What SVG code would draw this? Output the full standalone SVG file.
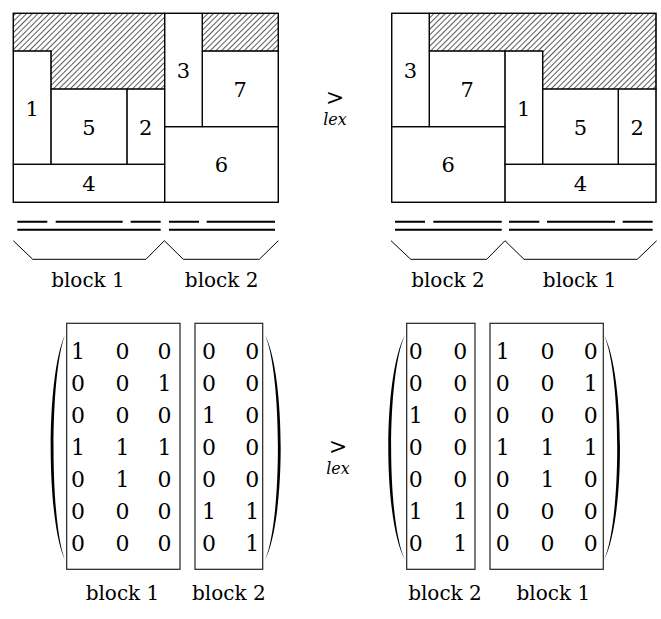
<svg xmlns="http://www.w3.org/2000/svg" width="661" height="619" viewBox="0 0 661 619" font-family="DejaVu Serif, serif">
<style>
text{font-family:"DejaVu Serif",serif;fill:#000}
.n{font-size:21px;text-anchor:middle}
.m{font-size:22px;text-anchor:middle}
.b{font-size:20px;text-anchor:middle}
.gt{font-size:22px;text-anchor:middle}
.lex{font-size:16px;font-style:italic;text-anchor:middle}
.cell{fill:none;stroke:#000;stroke-width:1.1}
.h{fill:url(#hatch);stroke:#000;stroke-width:1.1}
.dl{stroke:#000;stroke-width:2;fill:none}
.br{stroke:#000;stroke-width:1;fill:none}
.box{fill:none;stroke:#222;stroke-width:1.2}
.par{fill:#000;stroke:none}
</style>
<defs>
<pattern id="hatch" patternUnits="userSpaceOnUse" width="4" height="4" patternTransform="rotate(45)">
<line x1="0" y1="0" x2="0" y2="4" stroke="#000" stroke-width="1.3"/>
</pattern>
</defs>
<rect width="661" height="619" fill="#fff"/>

<!-- Top-left packing -->
<g id="packingLeft">
<polygon class="h" points="13.3,13.3 164.7,13.3 164.7,89 51,89 51,51 13.3,51"/>
<rect class="h" x="202.3" y="13.3" width="76" height="37.7"/>
<g id="L1"><rect class="cell" x="13.3" y="51" width="37.7" height="113.3"/><text class="n" x="32.2" y="115.5">1</text></g>
<g id="L5"><rect class="cell" x="51" y="89" width="76" height="75.3"/><text class="n" x="89" y="134.5">5</text></g>
<g id="L2"><rect class="cell" x="127" y="89" width="37.7" height="75.3"/><text class="n" x="145.8" y="134.5">2</text></g>
<g id="L4"><rect class="cell" x="13.3" y="164.3" width="151.4" height="38"/><text class="n" x="89" y="191.1">4</text></g>
<g id="L3"><rect class="cell" x="164.7" y="13.3" width="37.6" height="113.4"/><text class="n" x="183.5" y="77.8">3</text></g>
<g id="L7"><rect class="cell" x="202.3" y="51" width="76" height="75.7"/><text class="n" x="240.3" y="96.7">7</text></g>
<g id="L6"><rect class="cell" x="164.7" y="126.7" width="113.6" height="75.6"/><text class="n" x="221.5" y="172.3">6</text></g>
<rect class="cell" x="13.3" y="13.3" width="265" height="189"/>
</g>

<!-- Top-right packing -->
<g id="packingRight">
<polygon class="h" points="429.3,13.3 656,13.3 656,89 542.7,89 542.7,51 429.3,51"/>
<g id="R3"><rect class="cell" x="391.7" y="13.3" width="37.6" height="113.4"/><text class="n" x="410.5" y="77.8">3</text></g>
<g id="R7"><rect class="cell" x="429.3" y="51" width="75.7" height="75.7"/><text class="n" x="467.2" y="96.7">7</text></g>
<g id="R6"><rect class="cell" x="391.7" y="126.7" width="113.3" height="75.6"/><text class="n" x="448.3" y="172.3">6</text></g>
<g id="R1"><rect class="cell" x="505" y="51" width="37.7" height="113.3"/><text class="n" x="523.8" y="115.5">1</text></g>
<g id="R5"><rect class="cell" x="542.7" y="89" width="75.6" height="75.3"/><text class="n" x="580.5" y="134.5">5</text></g>
<g id="R2"><rect class="cell" x="618.3" y="89" width="37.7" height="75.3"/><text class="n" x="637.2" y="134.5">2</text></g>
<g id="R4"><rect class="cell" x="505" y="164.3" width="151" height="38"/><text class="n" x="580.5" y="191.1">4</text></g>
<rect class="cell" x="391.7" y="13.3" width="264.3" height="189"/>
</g>

<!-- lex symbols -->
<g id="lexTop"><text class="gt" x="335" y="104.5">&gt;</text><text class="lex" x="335" y="124.5">lex</text></g>
<g id="lexBottom"><text class="gt" x="338" y="453.5">&gt;</text><text class="lex" x="338" y="474">lex</text></g>

<!-- double lines and braces -->
<g id="connectors">
<path class="dl" d="M17.3,221.7H47.3M55.7,221.7H122.7M130.7,221.7H160.7M169,221.7H199M206.7,221.7H275"/>
<path class="dl" d="M17.3,229.7H160.7M169,229.7H275"/>
<path class="dl" d="M395,221.7H425M433.3,221.7H501.7M509,221.7H539.3M547,221.7H615M622.7,221.7H652.7"/>
<path class="dl" d="M395,229.7H501.7M509,229.7H652.7"/>
<polyline class="br" points="13.3,240.7 32.7,259.3 146,259.3 164.3,240.7 183.3,259.3 259.3,259.3 278.3,240.7"/>
<polyline class="br" points="391,240.7 410.7,259.3 486.7,259.3 505,240.7 524,259.3 637.3,259.3 656.7,240.7"/>
</g>
<g id="labelsTop">
<text class="b" x="88" y="287.3">block 1</text>
<text class="b" x="221.7" y="287.3">block 2</text>
<text class="b" x="448" y="287.3">block 2</text>
<text class="b" x="579.7" y="287.3">block 1</text>
</g>

<!-- Left matrix -->
<g id="matrixLeft">
<path class="par" d="M65,335 C45.9,375 45.9,520 65,560 C49.7,520 49.7,375 65,335Z"/>
<path class="par" d="M265,335 C285.9,375 285.9,520 265,560 C282.2,520 282.2,375 265,335Z"/>
<rect class="box" x="66.7" y="323.3" width="113.3" height="246"/>
<rect class="box" x="195" y="323.3" width="67.7" height="246"/>
<text class="m" y="359.3"><tspan x="78">1</tspan><tspan x="122.5">0</tspan><tspan x="164.5">0</tspan><tspan x="209">0</tspan><tspan x="252.3">0</tspan></text>
<text class="m" y="391.2"><tspan x="78">0</tspan><tspan x="122.5">0</tspan><tspan x="164.5">1</tspan><tspan x="209">0</tspan><tspan x="252.3">0</tspan></text>
<text class="m" y="423.1"><tspan x="78">0</tspan><tspan x="122.5">0</tspan><tspan x="164.5">0</tspan><tspan x="209">1</tspan><tspan x="252.3">0</tspan></text>
<text class="m" y="455"><tspan x="78">1</tspan><tspan x="122.5">1</tspan><tspan x="164.5">1</tspan><tspan x="209">0</tspan><tspan x="252.3">0</tspan></text>
<text class="m" y="486.9"><tspan x="78">0</tspan><tspan x="122.5">1</tspan><tspan x="164.5">0</tspan><tspan x="209">0</tspan><tspan x="252.3">0</tspan></text>
<text class="m" y="518.8"><tspan x="78">0</tspan><tspan x="122.5">0</tspan><tspan x="164.5">0</tspan><tspan x="209">1</tspan><tspan x="252.3">1</tspan></text>
<text class="m" y="550.7"><tspan x="78">0</tspan><tspan x="122.5">0</tspan><tspan x="164.5">0</tspan><tspan x="209">0</tspan><tspan x="252.3">1</tspan></text>
<text class="b" x="122.5" y="600">block 1</text>
<text class="b" x="228.8" y="600">block 2</text>
</g>

<!-- Right matrix -->
<g id="matrixRight">
<path class="par" d="M405,335 C382.7,375 382.7,520 405,560 C386.5,520 386.5,375 405,335Z"/>
<path class="par" d="M604,335 C625.3,375 625.3,520 604,560 C621.6,520 621.6,375 604,335Z"/>
<rect class="box" x="406.7" y="323.3" width="68.3" height="246"/>
<rect class="box" x="490" y="323.3" width="113.3" height="246"/>
<text class="m" y="359.3"><tspan x="415.8">0</tspan><tspan x="460.3">0</tspan><tspan x="502.8">1</tspan><tspan x="547.5">0</tspan><tspan x="590.8">0</tspan></text>
<text class="m" y="391.2"><tspan x="415.8">0</tspan><tspan x="460.3">0</tspan><tspan x="502.8">0</tspan><tspan x="547.5">0</tspan><tspan x="590.8">1</tspan></text>
<text class="m" y="423.1"><tspan x="415.8">1</tspan><tspan x="460.3">0</tspan><tspan x="502.8">0</tspan><tspan x="547.5">0</tspan><tspan x="590.8">0</tspan></text>
<text class="m" y="455"><tspan x="415.8">0</tspan><tspan x="460.3">0</tspan><tspan x="502.8">1</tspan><tspan x="547.5">1</tspan><tspan x="590.8">1</tspan></text>
<text class="m" y="486.9"><tspan x="415.8">0</tspan><tspan x="460.3">0</tspan><tspan x="502.8">0</tspan><tspan x="547.5">1</tspan><tspan x="590.8">0</tspan></text>
<text class="m" y="518.8"><tspan x="415.8">1</tspan><tspan x="460.3">1</tspan><tspan x="502.8">0</tspan><tspan x="547.5">0</tspan><tspan x="590.8">0</tspan></text>
<text class="m" y="550.7"><tspan x="415.8">0</tspan><tspan x="460.3">1</tspan><tspan x="502.8">0</tspan><tspan x="547.5">0</tspan><tspan x="590.8">0</tspan></text>
<text class="b" x="445" y="600">block 2</text>
<text class="b" x="553.3" y="600">block 1</text>
</g>
</svg>
